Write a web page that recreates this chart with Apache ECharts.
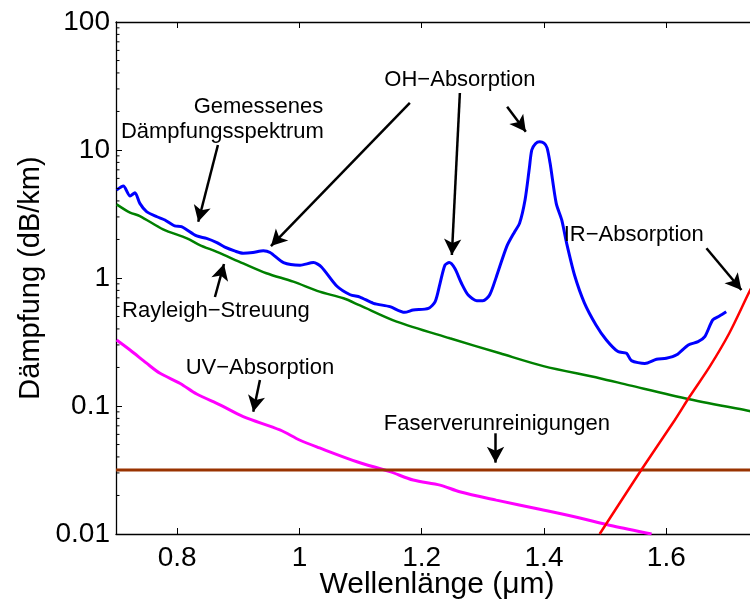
<!DOCTYPE html>
<html><head><meta charset="utf-8">
<script src="https://cdn.jsdelivr.net/npm/echarts@6/dist/echarts.min.js"></script>
<style>html,body{margin:0;padding:0;background:#fff}#c{width:750px;height:600px}</style>
</head><body><div id="c"></div>
<script>
// ---- data ----
const measuredX = [0.701,0.712,0.723,0.731,0.739,0.750,0.767,0.780,0.796,0.807,0.832,0.848,0.865,0.878,0.895,0.908,0.924,0.941,0.952,0.974,1.001,1.023,1.036,1.061,1.083,1.099,1.121,1.148,1.172,1.186,1.211,1.222,1.230,1.238,1.245,1.254,1.265,1.276,1.290,1.300,1.311,1.322,1.339,1.352,1.360,1.369,1.376,1.380,1.386,1.393,1.400,1.405,1.410,1.420,1.429,1.437,1.450,1.466,1.485,1.502,1.521,1.535,1.543,1.565,1.584,1.600,1.617,1.636,1.652,1.663,1.676,1.687,1.698];
const measuredY = [4.87,5.23,4.37,4.64,3.83,3.30,3.01,2.84,2.55,2.52,2.13,2.04,1.89,1.74,1.62,1.56,1.58,1.63,1.58,1.32,1.26,1.32,1.22,0.866,0.74,0.71,0.634,0.597,0.539,0.562,0.58,0.653,0.909,1.26,1.32,1.19,0.91,0.736,0.665,0.665,0.736,1.02,1.76,2.3,2.67,4.07,7.2,10.0,11.2,11.6,11.3,10.4,7.87,3.83,2.84,1.87,1.05,0.64,0.43,0.328,0.266,0.258,0.226,0.215,0.232,0.236,0.251,0.30,0.318,0.348,0.47,0.505,0.545];

const rayleighX = [0.701,0.723,0.739,0.777,0.816,0.837,0.865,0.908,0.946,0.990,1.033,1.072,1.099,1.159,1.246,1.328,1.399,1.491,1.540,1.638,1.736,1.75];
const rayleighY = [3.76,3.24,3.05,2.40,2.04,1.81,1.60,1.30,1.09,0.936,0.782,0.694,0.61,0.456,0.338,0.258,0.205,0.165,0.145,0.113,0.0914,0.089];

const uvX = [0.701,0.723,0.750,0.772,0.805,0.832,0.870,0.908,0.968,1.001,1.033,1.094,1.148,1.186,1.230,1.262,1.322,1.393,1.448,1.513,1.576];
const uvY = [0.328,0.274,0.216,0.180,0.150,0.124,0.102,0.0826,0.065,0.054,0.047,0.0367,0.0307,0.0264,0.0241,0.0214,0.0184,0.0156,0.0137,0.01155,0.0100];

const impurityX = [0.7, 1.75];
const impurityY = [0.0316, 0.0316];

const irX = [1.491,1.559,1.614,1.638,1.671,1.703,1.736,1.75];
const irY = [0.0100,0.0316,0.0778,0.118,0.203,0.37,0.782,1.05];

const xTickValues = [0.8, 1.0, 1.2, 1.4, 1.6];
const yTickLabels = ['0.01','0.1','1','10','100'];
const yMinorValues = [0.02,0.03,0.04,0.05,0.06,0.07,0.08,0.09,0.2,0.3,0.4,0.5,0.6,0.7,0.8,0.9,2,3,4,5,6,7,8,9,20,30,40,50,60,70,80,90];

const annotationTexts = ['Gemessenes','Dämpfungsspektrum','OH−Absorption','IR−Absorption','Rayleigh−Streuung','UV−Absorption','Faserverunreinigungen'];
const annotationX = [0.933,0.874,1.2624,1.5468,0.8635,0.9354,1.3229];
const annotationY = [21.7,13.8,35.2,2.17,0.552,0.198,0.0724];

const arrowFromX = [0.8667,1.1806,1.2624,1.3397,1.6657,0.8618,0.9354,1.3207];
const arrowFromY = [10.94,23.3,27.9,21.8,1.706,0.711,0.1596,0.0612];
const arrowToX   = [0.8345,0.9534,1.2493,1.3703,1.7229,0.8766,0.9245,1.3207];
const arrowToY   = [2.75,1.778,1.513,13.9,0.806,1.286,0.0902,0.0361];

// ---- build ----
const zip = (xs, ys) => xs.map((x, i) => [x, ys[i]]);
const FONT = '"Liberation Sans", Arial, Helvetica, sans-serif';
const X_MIN = 0.7, X_MAX = 1.75;

const chart = echarts.init(document.getElementById('c'), null, {renderer: 'canvas'});

const arrowData = arrowFromX.map((x, i) => [
  {coord: [x, arrowFromY[i]]},
  {coord: [arrowToX[i], arrowToY[i]]}
]);

const labelData = annotationTexts.map((t, i) => [annotationX[i], annotationY[i], t]);

const lineSeries = (name, xs, ys, color, width, smooth) => ({
  name, type: 'line', data: zip(xs, ys), showSymbol: false, symbol: 'none',
  smooth: smooth || false, clip: true,
  lineStyle: {color, width}, silent: true, z: 3
});

const option = {
  animation: false,
  backgroundColor: '#fff',
  grid: {left: 116, top: 22, right: -8, bottom: 66, containLabel: false, outerBoundsMode: 'none'},
  xAxis: [{
    type: 'value', min: X_MIN, max: X_MAX, position: 'bottom',
    name: 'Wellenlänge (μm)', nameLocation: 'middle', nameGap: 36, nameMoveOverlap: false,
    nameTextStyle: {fontSize: 30, color: '#000', fontFamily: FONT},
    axisLine: {show: true, onZero: false, lineStyle: {color: '#000', width: 1.3}},
    axisTick: {show: true, inside: true, length: 6, customValues: xTickValues, lineStyle: {color: '#000', width: 1}},
    axisLabel: {show: true, customValues: xTickValues, margin: 10, fontSize: 28, color: '#000', fontFamily: FONT,
      formatter: v => (Math.abs(v - 1) < 1e-9 ? '1' : String(+v.toFixed(1)))},
    splitLine: {show: false}
  }, {
    type: 'value', min: X_MIN, max: X_MAX, position: 'top',
    axisLine: {show: true, onZero: false, lineStyle: {color: '#000', width: 1.3}},
    axisTick: {show: true, inside: true, length: 6, customValues: xTickValues, lineStyle: {color: '#000', width: 1}},
    axisLabel: {show: false}, splitLine: {show: false}
  }],
  yAxis: [{
    type: 'log', logBase: 10, min: 0.01, max: 100, interval: 1, position: 'left',
    name: 'Dämpfung (dB/km)', nameLocation: 'middle', nameGap: 71, nameRotate: 90, nameMoveOverlap: false,
    nameTextStyle: {fontSize: 29, color: '#000', fontFamily: FONT},
    axisLine: {show: true, onZero: false, lineStyle: {color: '#000', width: 1.3}},
    axisTick: {show: true, inside: true, length: 6, lineStyle: {color: '#000', width: 1}},
    axisLabel: {show: true, margin: 6, fontSize: 28, color: '#000', fontFamily: FONT,
      formatter: v => {
        const k = Math.round(Math.log10(v)) + 2;
        return yTickLabels[k] !== undefined ? yTickLabels[k] : '';
      }},
    splitLine: {show: false}
  }],
  series: [
    lineSeries('Gemessen', measuredX, measuredY, '#0000ff', 3, 0.25),
    lineSeries('Rayleigh', rayleighX, rayleighY, '#008000', 2.5, 0.3),
    lineSeries('UV', uvX, uvY, '#ff00ff', 3, 0.3),
    lineSeries('Verunreinigungen', impurityX, impurityY, '#993300', 3, false),
    lineSeries('IR', irX, irY, '#ff0000', 2.5, 0.3),
    {
      name: 'Nebenstriche', type: 'custom', silent: true, clip: false, z: 6,
      data: yMinorValues.map(v => [X_MIN, v]),
      renderItem: (params, api) => {
        const p = api.coord([api.value(0), api.value(1)]);
        return {type: 'line', shape: {x1: p[0], y1: p[1], x2: p[0] + 3.5, y2: p[1]},
          style: {stroke: '#000', lineWidth: 1}};
      }
    },
    {
      name: 'Pfeile', type: 'line', data: [], silent: true,
      markLine: {
        silent: true, animation: false,
        symbol: ['none', 'arrow'], symbolSize: [13, 16],
        label: {show: false},
        lineStyle: {color: '#000', width: 2.5, type: 'solid', opacity: 1},
        emphasis: {disabled: true},
        data: arrowData
      }
    },
    {
      name: 'Beschriftung', type: 'scatter', data: labelData, symbolSize: 0, silent: true, z: 5,
      label: {show: true, position: 'inside', formatter: p => p.data[2],
        fontSize: 22, color: '#000', opacity: 1, textBorderWidth: 0, fontFamily: FONT}
    }
  ]
};
chart.setOption(option);
</script>
</body></html>
